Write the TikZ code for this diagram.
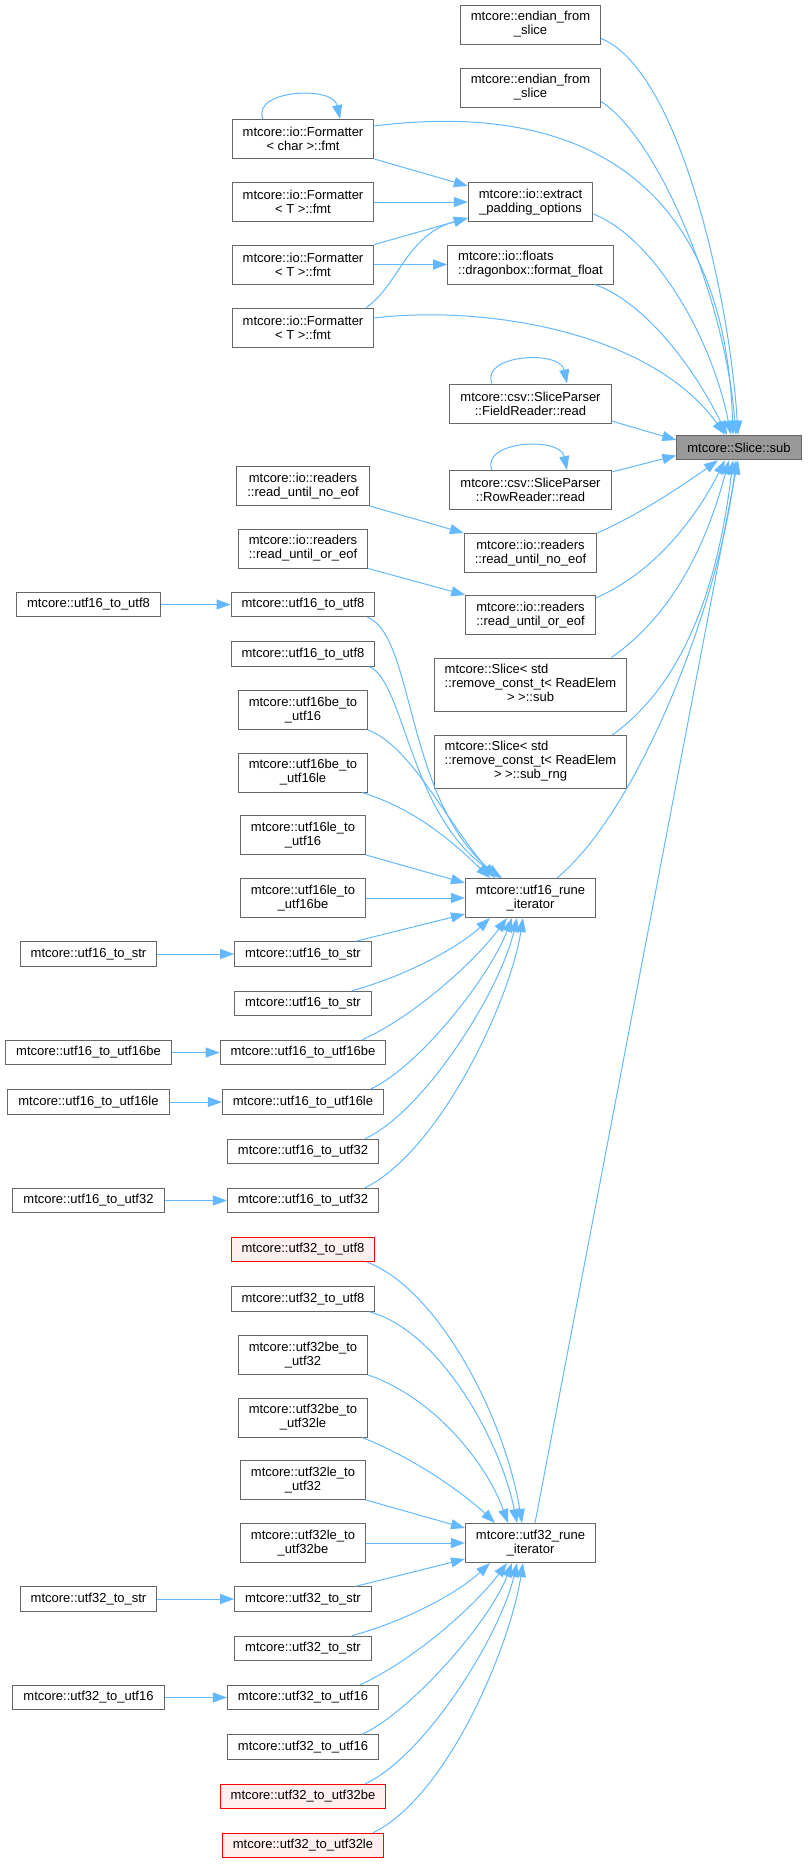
\documentclass[tikz,border=0pt]{standalone}
\usepackage{fontspec}
\setmainfont{Liberation Sans}
\usepackage{xcolor}
\usepackage{tikz}
\usetikzlibrary{arrows.meta}
\definecolor{edgeblue}{HTML}{63B8FF}
\definecolor{boxgray}{HTML}{666666}
\definecolor{curgray}{HTML}{999999}
\definecolor{redline}{HTML}{FF0000}
\definecolor{redfill}{HTML}{FFF0F0}
\tikzset{box/.style={rectangle,draw=boxgray,fill=white,line width=1pt,inner xsep=10.5pt,inner ysep=0pt,
                     minimum height=24.5pt,align=center,font=\fontsize{13}{14}\selectfont},
         two/.style={minimum height=39pt},
         three/.style={minimum height=53pt},
         cur/.style={fill=curgray},
         undoc/.style={draw=redline,fill=redfill},
         edge/.style={draw=edgeblue,line width=1pt,-{Triangle[length=14pt,width=10pt]}}}

\begin{document}
\begin{tikzpicture}[x=1pt,y=-1pt]
            \useasboundingbox (0,0) rectangle (808,1864);
            \node[box,cur] (sub) at (739,447.5) {mtcore::Slice::sub};
            \node[box,two] (endianA) at (530.5,24.5) {mtcore::endian\_from\\\_slice};
            \node[box,two] (endianB) at (530.5,87.5) {mtcore::endian\_from\\\_slice};
            \node[box,two] (extract) at (530.5,202) {mtcore::io::extract\\\_padding\_options};
            \node[box,two,align=left] (dragon) at (530.5,264.5) {mtcore::io::floats\\::dragonbox::format\_float};
            \node[box,two] (fieldRead) at (530.5,403.5) {mtcore::csv::SliceParser\\::FieldReader::read};
            \node[box,two] (rowRead) at (530.5,490) {mtcore::csv::SliceParser\\::RowReader::read};
            \node[box,two] (untilNo) at (530.5,553) {mtcore::io::readers\\::read\_until\_no\_eof};
            \node[box,two] (untilOr) at (530.5,615) {mtcore::io::readers\\::read\_until\_or\_eof};
            \node[box,three] (sliceSub) at (530.5,684.5) {\begin{tabular}{@{}l@{}}mtcore::Slice< std\\::remove\_const\_t< ReadElem\\\multicolumn{1}{@{}c@{}}{> >::sub}\end{tabular}};
            \node[box,three] (sliceRng) at (530.5,762) {\begin{tabular}{@{}l@{}}mtcore::Slice< std\\::remove\_const\_t< ReadElem\\\multicolumn{1}{@{}c@{}}{> >::sub\_rng}\end{tabular}};
            \node[box,two] (rune16) at (530.5,898) {mtcore::utf16\_rune\\\_iterator};
            \node[box,two] (rune32) at (530.5,1543) {mtcore::utf32\_rune\\\_iterator};
            \node[box,two] (fmtChar) at (303,139) {mtcore::io::Formatter\\< char >::fmt};
            \node[box,two] (fmtA) at (303,202) {mtcore::io::Formatter\\< T >::fmt};
            \node[box,two] (fmtB) at (303,264.5) {mtcore::io::Formatter\\< T >::fmt};
            \node[box,two] (fmtC) at (303,327.5) {mtcore::io::Formatter\\< T >::fmt};
            \node[box,two] (callNo) at (303,486) {mtcore::io::readers\\::read\_until\_no\_eof};
            \node[box,two] (callOr) at (303,548.5) {mtcore::io::readers\\::read\_until\_or\_eof};
            \node[box] (u16toU8a) at (303,604.5) {mtcore::utf16\_to\_utf8};
            \node[box] (u16toU8b) at (303,654) {mtcore::utf16\_to\_utf8};
            \node[box,two] (u16beToU16) at (303,710) {mtcore::utf16be\_to\\\_utf16};
            \node[box,two] (u16beToU16le) at (303,772.5) {mtcore::utf16be\_to\\\_utf16le};
            \node[box,two] (u16leToU16) at (303,835) {mtcore::utf16le\_to\\\_utf16};
            \node[box,two] (u16leToU16be) at (303,898) {mtcore::utf16le\_to\\\_utf16be};
            \node[box] (u16toStrA) at (303,954) {mtcore::utf16\_to\_str};
            \node[box] (u16toStrB) at (303,1003.5) {mtcore::utf16\_to\_str};
            \node[box] (u16toU16be) at (303,1052.5) {mtcore::utf16\_to\_utf16be};
            \node[box] (u16toU16le) at (303,1102) {mtcore::utf16\_to\_utf16le};
            \node[box] (u16toU32a) at (303,1151.5) {mtcore::utf16\_to\_utf32};
            \node[box] (u16toU32b) at (303,1200.5) {mtcore::utf16\_to\_utf32};
            \node[box,undoc] (u32toU8a) at (303,1249.5) {mtcore::utf32\_to\_utf8};
            \node[box] (u32toU8b) at (303,1299) {mtcore::utf32\_to\_utf8};
            \node[box,two] (u32beToU32) at (303,1355) {mtcore::utf32be\_to\\\_utf32};
            \node[box,two] (u32beToU32le) at (303,1417.5) {mtcore::utf32be\_to\\\_utf32le};
            \node[box,two] (u32leToU32) at (303,1480) {mtcore::utf32le\_to\\\_utf32};
            \node[box,two] (u32leToU32be) at (303,1543) {mtcore::utf32le\_to\\\_utf32be};
            \node[box] (u32toStrA) at (303,1599) {mtcore::utf32\_to\_str};
            \node[box] (u32toStrB) at (303,1648.5) {mtcore::utf32\_to\_str};
            \node[box] (u32toU16a) at (303,1697.5) {mtcore::utf32\_to\_utf16};
            \node[box] (u32toU16b) at (303,1747) {mtcore::utf32\_to\_utf16};
            \node[box,undoc] (u32toU32be) at (303,1796.5) {mtcore::utf32\_to\_utf32be};
            \node[box,undoc] (u32toU32le) at (303,1845.5) {mtcore::utf32\_to\_utf32le};
            \node[box] (callU16toU8) at (88.5,604.5) {mtcore::utf16\_to\_utf8};
            \node[box] (callU16toStr) at (88.5,954) {mtcore::utf16\_to\_str};
            \node[box] (callU16toU16be) at (88.5,1052.5) {mtcore::utf16\_to\_utf16be};
            \node[box] (callU16toU16le) at (88.5,1102) {mtcore::utf16\_to\_utf16le};
            \node[box] (callU16toU32) at (88.5,1200.5) {mtcore::utf16\_to\_utf32};
            \node[box] (callU32toStr) at (88.5,1599) {mtcore::utf32\_to\_str};
            \node[box] (callU32toU16) at (88.5,1697.5) {mtcore::utf32\_to\_utf16};
            \draw[edge] ([yshift=6pt]endianA.south east) .. controls +(79,32) and +(-8,-135) .. ([xshift=-1pt]sub.north);
            \draw[edge] ([yshift=6pt]endianB.south east) .. controls +(59,39) and +(-11,-135) .. ([xshift=-3pt]sub.north);
            \draw[edge] ([yshift=-7pt]fmtChar.north east) .. controls +(205,-26) and +(-8,-255) .. ([xshift=-6pt]sub.north);
            \draw[edge] ([yshift=-12pt]extract.east) .. controls +(56,21) and +(-21,-105) .. ([xshift=-8pt]sub.north);
            \draw[edge] ([xshift=-19pt]dragon.south east) .. controls +(46,16) and +(-37,-75) .. ([xshift=-12pt]sub.north);
            \draw[edge] ([yshift=9.5pt]fmtC.east) .. controls +(105,-13) and +(-75,-105) .. ([xshift=-14pt]sub.north);
            \draw[edge] (fmtChar.south east) -- ([yshift=16pt]extract.west);
            \draw[edge] ([xshift=-40pt]fmtChar.north) .. controls +(-12,-29) and +(-7,-34) .. ([xshift=37pt]fmtChar.north);
            \draw[edge] (fmtA.east) -- (extract.west);
            \draw[edge] (fmtB.north east) -- ([yshift=-16pt]extract.west);
            \draw[edge] (fmtB.east) -- (dragon.west);
            \draw[edge] ([xshift=-8pt]fmtC.north east) .. controls +(33,-23) and +(-62,17) .. ([yshift=-16pt]extract.west);
            \draw[edge] ([yshift=-17.5pt]fieldRead.east) -- ([yshift=7.5pt]sub.west);
            \draw[edge] ([xshift=-38.5pt]fieldRead.north) .. controls +(-12,-29) and +(-7,-34) .. ([xshift=36.5pt]fieldRead.north);
            \draw[edge] ([yshift=18pt]rowRead.east) -- ([yshift=-8pt]sub.west);
            \draw[edge] ([xshift=-38.5pt]rowRead.north) .. controls +(-12,-29) and +(-7,-34) .. ([xshift=36.5pt]rowRead.north);
            \draw[edge] (callNo.south east) -- (untilNo.north west);
            \draw[edge] (callOr.south east) -- (untilOr.north west);
            \draw[edge] (untilNo.north east) .. controls +(44,-19) and +(-28,20) .. ([xshift=-21pt]sub.south);
            \draw[edge] ([yshift=17pt]untilOr.east) .. controls +(64,-28) and +(-25,50) .. ([xshift=-14pt]sub.south);
            \draw[edge] ([xshift=-16pt]sliceSub.north east) .. controls +(69,-48) and +(-19,70) .. ([xshift=-10pt]sub.south);
            \draw[edge] ([xshift=-15pt]sliceRng.north east) .. controls +(78,-56) and +(-13,110) .. ([xshift=-6pt]sub.south);
            \draw[edge] ([xshift=26.5pt]rune16.north) .. controls +(83,-69) and +(-16,140) .. ([xshift=-3pt]sub.south);
            \draw[edge] ([xshift=4.5pt]rune32.north) -- ([xshift=-1pt]sub.south);
            \draw[edge] (callU16toU8.east) -- (u16toU8a.west);
            \draw[edge] (callU16toStr.east) -- (u16toStrA.west);
            \draw[edge] (callU16toU16be.east) -- (u16toU16be.west);
            \draw[edge] (callU16toU16le.east) -- (u16toU16le.west);
            \draw[edge] (callU16toU32.east) -- (u16toU32b.west);
            \draw[edge] (callU32toStr.east) -- (u32toStrA.west);
            \draw[edge] (callU32toU16.east) -- (u32toU16a.west);
            \draw[edge] ([xshift=-8pt]u16toU8a.south east) .. controls +(47,18) and +(-95,-79) .. ([xshift=-30.5pt]rune16.north);
            \draw[edge] ([xshift=-6pt]u16toU8b.south east) .. controls +(35,14) and +(-92,-59) .. ([xshift=-28.5pt]rune16.north);
            \draw[edge] (u16beToU16.south east) .. controls +(42,16) and +(-50,-59) .. ([xshift=-35.5pt]rune16.north);
            \draw[edge] ([xshift=-6pt]u16beToU16le.south east) .. controls +(58,18) and +(-30,-29) .. ([xshift=-40.5pt]rune16.north);
            \draw[edge] (u16leToU16.south east) -- ([yshift=15pt]rune16.west);
            \draw[edge] (u16leToU16be.east) -- (rune16.west);
            \draw[edge] ([xshift=-16pt]u16toStrA.north east) -- ([yshift=-16pt]rune16.west);
            \draw[edge] ([xshift=-20pt]u16toStrB.north east) .. controls +(58,-16) and +(-30,28) .. ([xshift=-40.5pt]rune16.south);
            \draw[edge] ([xshift=-24pt]u16toU16be.north east) .. controls +(53,-24) and +(-32,43) .. ([xshift=-23.5pt]rune16.south);
            \draw[edge] ([xshift=-14pt]u16toU16le.north east) .. controls +(50,-23) and +(-22,58) .. ([xshift=-18.5pt]rune16.south);
            \draw[edge] ([xshift=-14pt]u16toU32a.north east) .. controls +(60,-28) and +(-17,73) .. ([xshift=-13.5pt]rune16.south);
            \draw[edge] ([xshift=-14pt]u16toU32b.north east) .. controls +(75,-37) and +(-13,83) .. ([xshift=-7.5pt]rune16.south);
            \draw[edge] ([xshift=-8pt]u32toU8a.south east) .. controls +(72,28) and +(-17,-104) .. ([xshift=-8.5pt]rune32.north);
            \draw[edge] ([xshift=-6pt]u32toU8b.south east) .. controls +(70,19) and +(-17,-84) .. ([xshift=-13.5pt]rune32.north);
            \draw[edge] (u32beToU32.south east) .. controls +(62,21) and +(-23,-64) .. ([xshift=-22.5pt]rune32.north);
            \draw[edge] ([xshift=-6pt]u32beToU32le.south east) .. controls +(58,23) and +(-25,-24) .. ([xshift=-35.5pt]rune32.north);
            \draw[edge] (u32leToU32.south east) -- ([yshift=15pt]rune32.west);
            \draw[edge] (u32leToU32be.east) -- (rune32.west);
            \draw[edge] ([xshift=-16pt]u32toStrA.north east) -- ([yshift=-16pt]rune32.west);
            \draw[edge] ([xshift=-20pt]u32toStrB.north east) .. controls +(58,-16) and +(-30,28) .. ([xshift=-40.5pt]rune32.south);
            \draw[edge] ([xshift=-19pt]u32toU16a.north east) .. controls +(53,-24) and +(-32,43) .. ([xshift=-23.5pt]rune32.south);
            \draw[edge] ([xshift=-17pt]u32toU16b.north east) .. controls +(50,-23) and +(-22,58) .. ([xshift=-18.5pt]rune32.south);
            \draw[edge] ([xshift=-21pt]u32toU32be.north east) .. controls +(60,-28) and +(-17,73) .. ([xshift=-13.5pt]rune32.south);
            \draw[edge] ([xshift=-11pt]u32toU32le.north east) .. controls +(75,-37) and +(-13,83) .. ([xshift=-7.5pt]rune32.south);
        \end{tikzpicture}
\end{document}
